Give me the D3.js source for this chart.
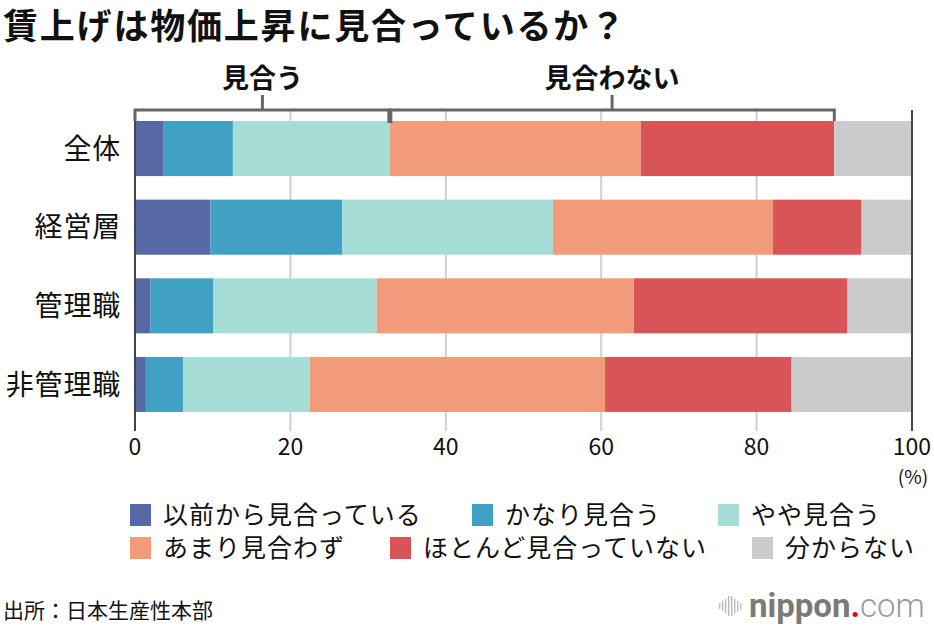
<!DOCTYPE html>
<html>
<head>
<meta charset="utf-8">
<script src="https://cdn.jsdelivr.net/npm/d3@7"></script>
<style>
  body { margin: 0; background: #fff; }
  text { font-family: "Noto Sans CJK JP", "Noto Sans", sans-serif; fill: #111; }
</style>
</head>
<body>
<div class="canvas"></div>
<script>
// Data
var categories = ['全体', '経営層', '管理職', '非管理職'];
var seriesNames = ['以前から見合っている', 'かなり見合う', 'やや見合う', 'あまり見合わず', 'ほとんど見合っていない', '分からない'];
var seriesColors = ['#5669a4', '#40a1c4', '#a6ddd6', '#f29b7a', '#d95456', '#cbcbcb'];
var values = [
    [3.7, 8.9, 20.2, 32.3, 24.9, 10.0],
    [9.7, 17.0, 27.1, 28.3, 11.4, 6.5],
    [2.0, 8.1, 21.0, 33.1, 27.5, 8.3],
    [1.4, 4.8, 16.3, 38.0, 24.0, 15.5]
];
var tickValues = [0, 20, 40, 60, 80, 100];
var groupLabels = ['見合う', '見合わない'];

// Config
var width = 934,
    height = 631,
    plotLeft = 135,
    plotRight = 912,
    plotTop = 121,
    plotBottom = 412;

var svg = d3.select('.canvas').append('svg')
    .attr('width', width)
    .attr('height', height);

var x = d3.scaleLinear().domain([0, 100]).range([plotLeft, plotRight]);
var y = d3.scaleBand().domain(categories)
    .range([plotTop - 11.8, plotBottom + 11.8])
    .paddingInner(0.3).paddingOuter(0.15);

// Stack the rows
var rows = categories.map(function (c, i) {
    var acc = 0;
    return values[i].map(function (v, j) {
        var seg = {cat: c, s: j, x0: acc, x1: acc + v};
        acc += v;
        return seg;
    });
});

// Title
svg.append('text')
    .attr('x', 3).attr('y', 39)
    .style('font-size', '35px').style('font-weight', 'bold')
    .style('letter-spacing', '1.8px')
    .text('賃上げは物価上昇に見合っているか？');

// Gridlines
var gridTop = 110, gridBottom = 431;
svg.selectAll('.grid')
    .data(tickValues.filter(function (d) { return d > 0 && d < 100; }))
    .enter().append('line')
    .attr('x1', x).attr('x2', x)
    .attr('y1', gridTop).attr('y2', gridBottom)
    .attr('stroke', '#cfcfcf').attr('stroke-width', 2);

// Bars
svg.selectAll('.row')
    .data(rows)
    .enter().append('g')
    .selectAll('rect')
    .data(function (d) { return d; })
    .enter().append('rect')
    .attr('x', function (d) { return x(d.x0); })
    .attr('width', function (d) { return x(d.x1) - x(d.x0); })
    .attr('y', function (d) { return y(d.cat); })
    .attr('height', y.bandwidth())
    .attr('fill', function (d) { return seriesColors[d.s]; });

// Frame lines at 0 and 100
svg.selectAll('.frame')
    .data([0, 100])
    .enter().append('line')
    .attr('x1', x).attr('x2', x)
    .attr('y1', gridTop).attr('y2', gridBottom)
    .attr('stroke', '#444').attr('stroke-width', 2);

// Category labels
svg.selectAll('.cat')
    .data(categories)
    .enter().append('text')
    .attr('x', 121)
    .attr('y', function (d) { return y(d) + y.bandwidth() / 2; })
    .attr('dy', '0.36em')
    .attr('text-anchor', 'end')
    .style('font-size', '28px')
    .style('letter-spacing', '0.8px')
    .text(function (d) { return d; });

// Axis tick labels
svg.selectAll('.tick')
    .data(tickValues)
    .enter().append('text')
    .attr('x', x)
    .attr('y', 455)
    .attr('text-anchor', 'middle')
    .style('font-size', '23px')
    .text(function (d) { return d; });

svg.append('text')
    .attr('x', x(100) + 1).attr('y', 484)
    .attr('text-anchor', 'middle')
    .style('font-size', '19px')
    .text('(%)');

// Bracket over the first row: agree vs. not agree
var first = rows[0];
var groups = [
    {label: groupLabels[0], x0: 0, x1: first[2].x1},
    {label: groupLabels[1], x0: first[2].x1, x1: first[4].x1}
];
var by = 110;
var bracket = svg.append('g').attr('stroke', '#666').attr('stroke-width', 3).attr('fill', 'none');
groups.forEach(function (g) {
    var mid = (x(g.x0) + x(g.x1)) / 2;
    bracket.append('path')
        .attr('d', 'M' + x(g.x0) + ',' + (by + 11) + 'V' + by + 'H' + x(g.x1) + 'V' + (by + 11));
    bracket.append('line')
        .attr('x1', mid).attr('x2', mid)
        .attr('y1', by).attr('y2', by - 15);
    svg.append('text')
        .attr('x', mid).attr('y', 88)
        .attr('text-anchor', 'middle')
        .style('font-size', '27px').style('font-weight', 'bold')
        .text(g.label);
});
bracket.append('line')
    .attr('x1', x(first[2].x1)).attr('x2', x(first[2].x1))
    .attr('y1', by).attr('y2', by + 13)
    .attr('stroke-width', 5);

// Legend
var legendPos = [[130, 515], [472, 515], [718, 515], [130, 548], [390, 548], [752, 548]];
var legend = svg.selectAll('.legend')
    .data(seriesNames)
    .enter().append('g')
    .attr('transform', function (d, i) { return 'translate(' + legendPos[i][0] + ',' + legendPos[i][1] + ')'; });
legend.append('rect')
    .attr('x', 0).attr('y', -11)
    .attr('width', 21).attr('height', 22)
    .attr('fill', function (d, i) { return seriesColors[i]; });
legend.append('text')
    .attr('x', 33).attr('y', 0)
    .attr('dy', '0.36em')
    .style('font-size', '25px')
    .style('letter-spacing', '1px')
    .text(function (d) { return d; });

// Footer
svg.append('text')
    .attr('x', 3).attr('y', 618)
    .style('font-size', '21px')
    .text('出所：日本生産性本部');

var logo = svg.append('g').attr('transform', 'translate(719,612)');
[6, 10, 14, 20, 20, 14, 10, 6].forEach(function (hh, i) {
    logo.append('rect')
        .attr('x', i * 3).attr('y', -6 - hh / 2)
        .attr('width', 1.4).attr('height', hh)
        .attr('fill', '#bbb');
});
var logoText = logo.append('text')
    .attr('x', 30).attr('y', 5)
    .style('font-family', 'Roboto, "Open Sans", sans-serif')
    .style('font-size', '33px');
logoText.append('tspan').style('fill', '#7a7a7a').style('font-weight', 'bold').text('nippon');
logoText.append('tspan').style('fill', '#e60012').style('font-weight', 'bold').text('.');
logoText.append('tspan').style('fill', '#9a9a9a').style('font-weight', '300').text('com');
</script>
</body>
</html>
